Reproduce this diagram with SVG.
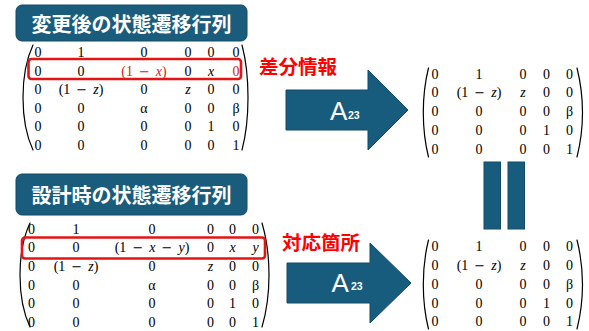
<svg xmlns="http://www.w3.org/2000/svg" width="589" height="331" viewBox="0 0 589 331">
  <style>
    .title { fill: #1A5C7C; stroke: #134A66; stroke-width: 1; }
    .ttext { font-family: "Noto Sans CJK JP", "Noto Sans", sans-serif; font-weight: bold; font-size: 20px; fill: #FFFFFF; text-anchor: middle; }
    .lab { font-family: "Noto Sans CJK JP", "Noto Sans", sans-serif; font-weight: bold; font-size: 19.5px; fill: #FF0000; }
    .m { font-family: "Liberation Serif", "DejaVu Serif", serif; font-size: 14px; fill: #000000; text-anchor: middle; }
    .e { word-spacing: 2.5px; }
    .mi { font-family: "DejaVu Serif", serif; font-size: 13px; }
    .i { font-style: italic; }
    .red { fill: #D42222; }
    .paren { fill: none; stroke: #000000; stroke-width: 1.2; stroke-linecap: round; }
    .hl { fill: none; stroke: #E41414; stroke-width: 2.6; }
    .arrow { fill: #175C7C; stroke: #134A66; stroke-width: 1; }
    .a { font-family: "Liberation Sans", "Open Sans", sans-serif; font-size: 26px; fill: #FFFFFF; }
    .sub { font-family: "Liberation Sans", "Open Sans", sans-serif; font-size: 10.5px; font-weight: bold; fill: #FFFFFF; }
    .eq { fill: #175C7C; stroke: #134A66; stroke-width: 1; }
  </style>

  <!-- Title 1 -->
  <g id="title-changed">
    <rect class="title" x="16" y="5" width="231" height="36" rx="6"/>
    <text class="ttext" x="131.5" y="32">変更後の状態遷移行列</text>
  </g>

  <!-- Matrix: changed -->
  <g id="matrix-changed">
    <path class="paren" d="M33,45 C25,62 23,78 23,97.5 C23,117 25,133 33,150"/>
    <path class="paren" d="M242,45 C246.5,62 248,78 248,97.5 C248,117 246.5,133 242,150"/>
    <rect class="hl" x="28.5" y="59" width="212.5" height="20" rx="3"/>
    <g class="m">
      <text x="38" y="57.2">0</text><text x="81" y="57.2">1</text><text x="144" y="57.2">0</text><text x="188" y="57.2">0</text><text x="211" y="57.2">0</text><text x="236" y="57.2">0</text>
      <text x="38" y="75.7">0</text><text x="81" y="75.7">0</text><text class="e red" x="144" y="75.7">(1 <tspan class="mi">−</tspan> <tspan class="i">x</tspan>)</text><text x="188" y="75.7">0</text><text class="i" x="211" y="75.7">x</text><text class="red" x="236" y="75.7">0</text>
      <text x="38" y="94.2">0</text><text class="e" x="81" y="94.2">(1 <tspan class="mi">−</tspan> <tspan class="i">z</tspan>)</text><text x="144" y="94.2">0</text><text class="i" x="188" y="94.2">z</text><text x="211" y="94.2">0</text><text x="236" y="94.2">0</text>
      <text x="38" y="112.7">0</text><text x="81" y="112.7">0</text><text x="144" y="112.7">α</text><text x="188" y="112.7">0</text><text x="211" y="112.7">0</text><text x="236" y="112.7">β</text>
      <text x="38" y="131.2">0</text><text x="81" y="131.2">0</text><text x="144" y="131.2">0</text><text x="188" y="131.2">0</text><text x="211" y="131.2">1</text><text x="236" y="131.2">0</text>
      <text x="38" y="149.7">0</text><text x="81" y="149.7">0</text><text x="144" y="149.7">0</text><text x="188" y="149.7">0</text><text x="211" y="149.7">0</text><text x="236" y="149.7">1</text>
    </g>
  </g>

  <g id="label-diff">
    <text class="lab" x="259" y="74">差分情報</text>
  </g>

  <!-- Title 2 -->
  <g id="title-design">
    <rect class="title" x="16" y="174" width="231" height="41" rx="6"/>
    <text class="ttext" x="131.5" y="203">設計時の状態遷移行列</text>
  </g>

  <!-- Matrix: design -->
  <g id="matrix-design">
    <path class="paren" d="M30,223 C22,240 20,256 20,275 C20,294 22,310 30,327"/>
    <path class="paren" d="M262,223 C267,240 269,256 269,275 C269,294 267,310 262,327"/>
    <rect class="hl" x="22" y="237.5" width="243" height="21" rx="3"/>
    <g class="m">
      <text x="31.5" y="233.7">0</text><text x="76" y="233.7">1</text><text x="152" y="233.7">0</text><text x="210.5" y="233.7">0</text><text x="232.5" y="233.7">0</text><text x="255.5" y="233.7">0</text>
      <text x="31.5" y="252.3">0</text><text x="76" y="252.3">0</text><text class="e" x="152" y="252.3">(1 <tspan class="mi">−</tspan> <tspan class="i">x</tspan> <tspan class="mi">−</tspan> <tspan class="i">y</tspan>)</text><text x="210.5" y="252.3">0</text><text class="i" x="232.5" y="252.3">x</text><text class="i" x="255.5" y="252.3">y</text>
      <text x="31.5" y="271">0</text><text class="e" x="76" y="271">(1 <tspan class="mi">−</tspan> <tspan class="i">z</tspan>)</text><text x="152" y="271">0</text><text class="i" x="210.5" y="271">z</text><text x="232.5" y="271">0</text><text x="255.5" y="271">0</text>
      <text x="31.5" y="289.6">0</text><text x="76" y="289.6">0</text><text x="152" y="289.6">α</text><text x="210.5" y="289.6">0</text><text x="232.5" y="289.6">0</text><text x="255.5" y="289.6">β</text>
      <text x="31.5" y="308.3">0</text><text x="76" y="308.3">0</text><text x="152" y="308.3">0</text><text x="210.5" y="308.3">0</text><text x="232.5" y="308.3">1</text><text x="255.5" y="308.3">0</text>
      <text x="31.5" y="326.9">0</text><text x="76" y="326.9">0</text><text x="152" y="326.9">0</text><text x="210.5" y="326.9">0</text><text x="232.5" y="326.9">0</text><text x="255.5" y="326.9">1</text>
    </g>
  </g>

  <g id="label-corresponding">
    <text class="lab" x="282" y="250">対応箇所</text>
  </g>

  <!-- Connectors: block arrows -->
  <g id="connectors">
    <g id="arrow-top">
      <path class="arrow" d="M286,90 L368,90 L368,70 L408,110 L368,150 L368,130 L286,130 Z"/>
      <text class="a" x="330" y="120">A</text>
      <text class="sub" x="348" y="118.5">23</text>
    </g>
    <g id="arrow-bottom">
      <path class="arrow" d="M287,263 L370,263 L370,243 L411,283 L370,323 L370,303 L287,303 Z"/>
      <text class="a" x="331.5" y="291.5">A</text>
      <text class="sub" x="351" y="290">23</text>
    </g>
  </g>

  <!-- Result matrix top -->
  <g id="result-top">
    <path class="paren" d="M428.5,68 C424.5,84 423.3,98 423.3,112.5 C423.3,127 424.5,141 428.5,157"/>
    <path class="paren" d="M577,68 C581,84 582.5,98 582.5,112.5 C582.5,127 581,141 577,157"/>
    <g class="m">
      <text x="435" y="78.7">0</text><text x="479" y="78.7">1</text><text x="523" y="78.7">0</text><text x="546.5" y="78.7">0</text><text x="569.5" y="78.7">0</text>
      <text x="435" y="97.4">0</text><text class="e" x="479" y="97.4">(1 <tspan class="mi">−</tspan> <tspan class="i">z</tspan>)</text><text class="i" x="523" y="97.4">z</text><text x="546.5" y="97.4">0</text><text x="569.5" y="97.4">0</text>
      <text x="435" y="116.1">0</text><text x="479" y="116.1">0</text><text x="523" y="116.1">0</text><text x="546.5" y="116.1">0</text><text x="569.5" y="116.1">β</text>
      <text x="435" y="134.8">0</text><text x="479" y="134.8">0</text><text x="523" y="134.8">0</text><text x="546.5" y="134.8">1</text><text x="569.5" y="134.8">0</text>
      <text x="435" y="153.5">0</text><text x="479" y="153.5">0</text><text x="523" y="153.5">0</text><text x="546.5" y="153.5">0</text><text x="569.5" y="153.5">1</text>
    </g>
  </g>

  <!-- Equals sign -->
  <g id="equals">
    <rect class="eq" x="484" y="162" width="16.5" height="67"/>
    <rect class="eq" x="508" y="162" width="16.5" height="67"/>
  </g>

  <!-- Result matrix bottom -->
  <g id="result-bottom">
    <path class="paren" d="M428.5,240 C424.5,256 423.3,270 423.3,284.5 C423.3,299 424.5,313 428.5,329"/>
    <path class="paren" d="M577,240 C581,256 582.5,270 582.5,284.5 C582.5,299 581,313 577,329"/>
    <g class="m">
      <text x="435" y="251.2">0</text><text x="479" y="251.2">1</text><text x="523" y="251.2">0</text><text x="546.5" y="251.2">0</text><text x="569.5" y="251.2">0</text>
      <text x="435" y="270">0</text><text class="e" x="479" y="270">(1 <tspan class="mi">−</tspan> <tspan class="i">z</tspan>)</text><text class="i" x="523" y="270">z</text><text x="546.5" y="270">0</text><text x="569.5" y="270">0</text>
      <text x="435" y="288.8">0</text><text x="479" y="288.8">0</text><text x="523" y="288.8">0</text><text x="546.5" y="288.8">0</text><text x="569.5" y="288.8">β</text>
      <text x="435" y="307.6">0</text><text x="479" y="307.6">0</text><text x="523" y="307.6">0</text><text x="546.5" y="307.6">1</text><text x="569.5" y="307.6">0</text>
      <text x="435" y="326.4">0</text><text x="479" y="326.4">0</text><text x="523" y="326.4">0</text><text x="546.5" y="326.4">0</text><text x="569.5" y="326.4">1</text>
    </g>
  </g>
</svg>
